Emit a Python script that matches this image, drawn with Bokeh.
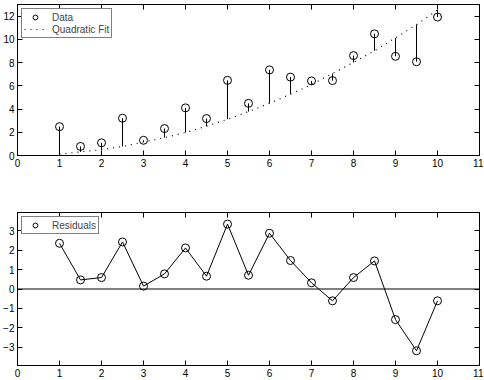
from bokeh.plotting import figure
from bokeh.models import LinearAxis, Span, FixedTicker, Range1d, ColumnDataSource, CustomLabelingPolicy
from bokeh.layouts import column
from bokeh.embed import file_html
from bokeh.resources import INLINE

# ---- data ----
x_vals = [1, 1.5, 2, 2.5, 3, 3.5, 4, 4.5, 5, 5.5, 6, 6.5, 7, 7.5, 8, 8.5, 9, 9.5, 10]
data_vals = [2.48, 0.78, 1.09, 3.21, 1.31, 2.32, 4.10, 3.18, 6.47, 4.49,
             7.37, 6.75, 6.42, 6.45, 8.60, 10.47, 8.54, 8.07, 11.92]
fit_vals = [0.12, 0.31, 0.50, 0.78, 1.16, 1.54, 1.98, 2.52, 3.12, 3.78,
            4.49, 5.28, 6.10, 7.06, 8.01, 9.02, 10.12, 11.26, 12.53]
resid_vals = [2.36, 0.47, 0.59, 2.43, 0.15, 0.78, 2.12, 0.66, 3.35, 0.71,
              2.88, 1.47, 0.32, -0.61, 0.59, 1.45, -1.58, -3.19, -0.61]
x_ticks = [0, 1, 2, 3, 4, 5, 6, 7, 8, 9, 10, 11]
top_y_ticks = [0, 2, 4, 6, 8, 10, 12]
bot_y_ticks = [-3, -2, -1, 0, 1, 2, 3]

FONT = "Liberation Sans"
FS = "10px"

src = ColumnDataSource(dict(x=x_vals, y=data_vals, fit=fit_vals, r=resid_vals))

hide_policy = CustomLabelingPolicy(code="""
const all = [...indices]
for (const i of all) indices.unset(i)
return indices
""")


def style_axes(p, yticks):
    p.xgrid.visible = False
    p.ygrid.visible = False
    p.outline_line_color = "black"
    p.outline_line_alpha = 1
    p.background_fill_color = "white"
    p.border_fill_color = "white"
    p.xaxis.ticker = FixedTicker(ticks=x_ticks)
    p.yaxis.ticker = FixedTicker(ticks=yticks)
    for ax in (p.xaxis[0], p.yaxis[0]):
        ax.major_tick_in = 5
        ax.major_tick_out = 0
        ax.minor_tick_line_color = None
        ax.axis_line_color = "black"
        ax.major_tick_line_color = "black"
        ax.major_label_text_font = FONT
        ax.major_label_text_font_size = FS
        ax.major_label_text_color = "black"
        ax.major_label_standoff = 3
    # mirrored ticks on top and right (labels hidden)
    top = LinearAxis(ticker=FixedTicker(ticks=x_ticks))
    right = LinearAxis(ticker=FixedTicker(ticks=yticks))
    for ax in (top, right):
        ax.major_tick_in = 5
        ax.major_tick_out = 0
        ax.minor_tick_line_color = None
        ax.axis_line_color = "black"
        ax.major_tick_line_color = "black"
        ax.major_label_text_font_size = "1px"
        ax.major_label_policy = hide_policy
        ax.major_label_standoff = 0
    p.add_layout(top, "above")
    p.add_layout(right, "right")


p1 = figure(width=483, height=175, x_range=Range1d(0, 11), y_range=Range1d(0, 13),
            output_backend="svg", toolbar_location=None,
            min_border_left=15, min_border_right=2, min_border_top=1, min_border_bottom=20)
style_axes(p1, top_y_ticks)

p1.segment(x0="x", y0="fit", x1="x", y1="y", source=src, line_color="black", line_width=1)
p1.line(x="x", y="fit", source=src, line_color="black", line_width=1.2, line_dash="1 5",
        legend_label="Quadratic Fit")
p1.scatter(x="x", y="y", source=src, size=8, marker="circle", fill_color=None,
           line_color="black", line_width=1, legend_label="Data")

p2 = figure(width=483, height=204, x_range=Range1d(0, 11), y_range=Range1d(-3.95, 3.95),
            output_backend="svg", toolbar_location=None,
            min_border_left=15, min_border_right=2, min_border_top=37, min_border_bottom=13)
style_axes(p2, bot_y_ticks)
p2.xaxis[0].major_label_standoff = 2
p2.add_layout(Span(location=0, dimension="width", line_color="black", line_width=1))
p2.line(x="x", y="r", source=src, line_color="black", line_width=1)
p2.scatter(x="x", y="r", source=src, size=8, marker="circle", fill_color="white",
           fill_alpha=0, line_color="black", line_width=1, legend_label="Residuals")

for p in (p1, p2):
    lg = p.legend[0]
    lg.location = "top_left"
    lg.border_line_color = "black"
    lg.border_line_width = 1
    lg.background_fill_color = "white"
    lg.background_fill_alpha = 1
    lg.label_text_font = FONT
    lg.label_text_font_size = FS
    lg.label_height = 12
    lg.glyph_height = 12
    lg.glyph_width = 22
    lg.spacing = 0
    lg.padding = 2
    lg.margin = 4
    lg.label_standoff = 6

p1.legend[0].items = list(reversed(p1.legend[0].items))

layout = column(p1, p2, spacing=0)
open("out.html", "w").write(file_html(layout, INLINE))
